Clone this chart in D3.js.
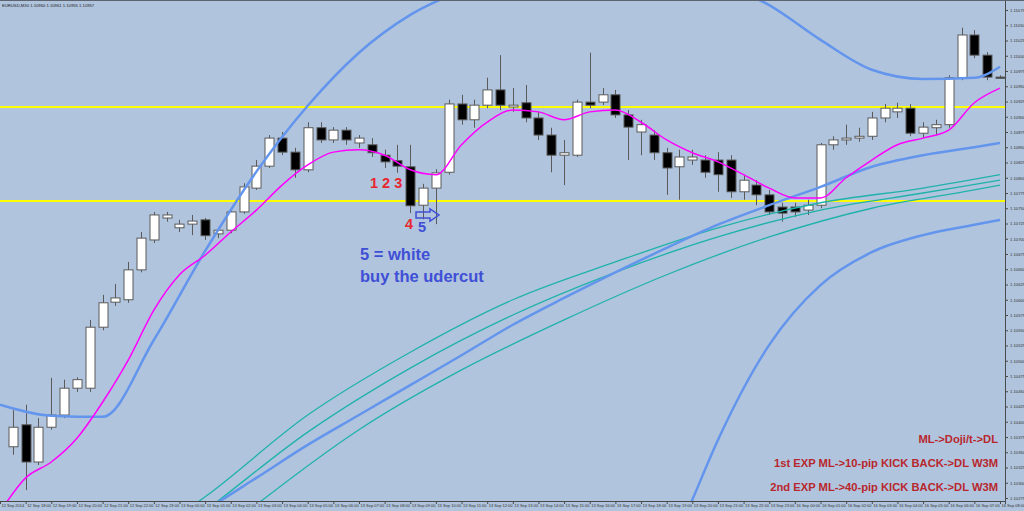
<html>
<head>
<meta charset="utf-8">
<script src="https://d3js.org/d3.v7.min.js"></script>
<style>
body {margin:0; background:#b0c4de; overflow:hidden;}
text {font-family: Arial, "Liberation Sans", sans-serif;}
</style>
</head>
<body>
<svg width="1024" height="511"></svg>
<script>
// EURUSD M30 candles, bar 1 = 12 Sep 17:30
var opens  = [1.10359,1.10395,1.10334,1.10391,1.10411,1.10455,1.10455,1.10555,1.10596,1.10600,
              1.10649,1.10698,1.10734,1.10718,1.10724,1.10731,1.10708,1.10714,1.10744,1.10783,
              1.10819,1.10865,1.10842,1.10813,1.10882,1.10862,1.10878,1.10857,1.10854,1.10837,
              1.10828,1.10818,1.10755,1.10783,1.10809,1.10921,1.10895,1.10919,1.10944,1.10916,
              1.10923,1.10898,1.10870,1.10837,1.10837,1.10924,1.10924,1.10936,1.10903,1.10875,
              1.10870,1.10841,1.10818,1.10829,1.10829,1.10829,1.10829,1.10777,1.10788,1.10772,
              1.10752,1.10752,1.10747,1.10755,1.10854,1.10862,1.10865,1.10868,1.10898,1.10908,
              1.10914,1.10873,1.10882,1.10887,1.10964,1.11034,1.11001,1.10965]
var highs  = [1.10419,1.10428,1.10406,1.10472,1.10469,1.10473,1.10567,1.10608,1.10626,1.10662,
              1.10711,1.10744,1.10744,1.10731,1.10739,1.10734,1.10718,1.10750,1.10791,1.10829,
              1.10870,1.10875,1.10849,1.10891,1.10891,1.10883,1.10883,1.10870,1.10865,1.10846,
              1.10854,1.10854,1.10790,1.10814,1.10928,1.10936,1.10928,1.10964,1.11001,1.10947,
              1.10952,1.10908,1.10882,1.10862,1.10928,1.11005,1.10947,1.10944,1.10911,1.10895,
              1.10878,1.10849,1.10846,1.10846,1.10837,1.10842,1.10837,1.10805,1.10796,1.10780,
              1.10759,1.10759,1.10764,1.10857,1.10868,1.10887,1.10882,1.10908,1.10921,1.10923,
              1.10921,1.10891,1.10895,1.10968,1.11046,1.11042,1.11006,1.10968]
var lows   = [1.10346,1.10288,1.10329,1.10387,1.10406,1.10449,1.10449,1.10550,1.10590,1.10595,
              1.10645,1.10693,1.10728,1.10711,1.10706,1.10698,1.10701,1.10709,1.10741,1.10780,
              1.10816,1.10837,1.10800,1.10809,1.10857,1.10857,1.10854,1.10849,1.10834,1.10816,
              1.10808,1.10742,1.10732,1.10724,1.10805,1.10887,1.10882,1.10914,1.10911,1.10908,
              1.10891,1.10862,1.10809,1.10788,1.10834,1.10914,1.10919,1.10898,1.10829,1.10837,
              1.10829,1.10772,1.10764,1.10821,1.10800,1.10777,1.10767,1.10764,1.10755,1.10739,
              1.10728,1.10736,1.10739,1.10750,1.10846,1.10854,1.10859,1.10862,1.10891,1.10898,
              1.10868,1.10865,1.10870,1.10882,1.10960,1.10996,1.10960,1.10962]
var closes = [1.10391,1.10334,1.10391,1.10411,1.10455,1.10469,1.10555,1.10595,1.10603,1.10649,
              1.10701,1.10739,1.10739,1.10724,1.10729,1.10705,1.10714,1.10744,1.10785,1.10819,
              1.10865,1.10842,1.10813,1.10882,1.10862,1.10878,1.10862,1.10865,1.10841,1.10826,
              1.10819,1.10754,1.10783,1.10808,1.10921,1.10895,1.10919,1.10944,1.10919,1.10919,
              1.10898,1.10870,1.10837,1.10841,1.10924,1.10919,1.10936,1.10903,1.10883,1.10887,
              1.10841,1.10816,1.10834,1.10834,1.10809,1.10805,1.10777,1.10796,1.10772,1.10744,
              1.10742,1.10744,1.10755,1.10854,1.10862,1.10865,1.10868,1.10898,1.10914,1.10914,
              1.10873,1.10883,1.10887,1.10964,1.11034,1.11001,1.10965,1.10963]

// indicators, sampled at bar indexes
var bbUpBars = [0,4,8,12,16,20,24,28,32,36,40,44,48,52,56,60,64,68,72,76,78]
var bbUpVals = [1.10428,1.10410,1.10408,1.10534,1.10680,1.10810,1.10918,1.11005,1.11067,1.11108,
                1.11149,1.11173,1.11177,1.11157,1.11121,1.11083,1.11026,1.10977,1.10962,1.10964,1.10982]
var bbMidBars = [14,16,20,24,28,32,36,40,44,48,52,56,60,64,68,72,76,78]
var bbMidVals = [1.10231,1.10255,1.10308,1.10362,1.10411,1.10460,1.10509,1.10559,1.10603,1.10645,
                 1.10685,1.10723,1.10755,1.10785,1.10818,1.10837,1.10850,1.10857]
var bbLowBars = [50,54,56,60,64,68,72,76,78]
var bbLowVals = [1.10075,1.10272,1.10370,1.10526,1.10624,1.10678,1.10706,1.10723,1.10731]
var ema1Bars = [14,16,24,32,40,48,56,64,72,78]
var ema1Vals = [1.10247,1.10277,1.10411,1.10514,1.10600,1.10662,1.10718,1.10759,1.10783,1.10805]
var ema2Bars = [14,16,24,32,40,48,56,64,72,78]
var ema2Vals = [1.10223,1.10254,1.10383,1.10488,1.10575,1.10645,1.10703,1.10747,1.10775,1.10796]
var ema3Bars = [18,20,28,36,44,52,60,68,76,78]
var ema3Vals = [1.10231,1.10264,1.10387,1.10485,1.10567,1.10641,1.10703,1.10750,1.10780,1.10788]
var fastBars = d3.range(0, 79, 2)
var fastVals = [1.10252,1.10308,1.10334,1.10373,1.10432,1.10501,1.10583,1.10641,1.10673,1.10711,
                1.10747,1.10788,1.10821,1.10842,1.10846,1.10837,1.10813,1.10805,1.10854,1.10891,
                1.10911,1.10908,1.10895,1.10908,1.10911,1.10891,1.10862,1.10841,1.10826,1.10805,
                1.10783,1.10767,1.10767,1.10800,1.10829,1.10854,1.10865,1.10878,1.10923,1.10947]
var levels = [1.10916, 1.10762]

var priceTicks = ["1.10275","1.10300","1.10325","1.10350","1.10375","1.10400","1.10425","1.10450",
                  "1.10475","1.10500","1.10525","1.10550","1.10575","1.10600","1.10625","1.10650",
                  "1.10675","1.10700","1.10725","1.10750","1.10775","1.10800","1.10825","1.10850",
                  "1.10875","1.10900","1.10925","1.10950","1.10975","1.11000","1.11025","1.11050","1.11075"]
var timeLabels = ["12 Sep 2014","12 Sep 18:00","12 Sep 19:00","12 Sep 20:00","12 Sep 21:00","12 Sep 22:00",
                  "12 Sep 23:00","13 Sep 00:00","13 Sep 01:00","13 Sep 02:00","13 Sep 03:00","13 Sep 04:00",
                  "13 Sep 05:00","13 Sep 06:00","13 Sep 07:00","13 Sep 08:00","13 Sep 09:00","13 Sep 10:00",
                  "13 Sep 11:00","13 Sep 12:00","13 Sep 13:00","13 Sep 14:00","13 Sep 15:00","13 Sep 16:00",
                  "13 Sep 17:00","13 Sep 18:00","13 Sep 19:00","13 Sep 20:00","13 Sep 21:00","13 Sep 22:00",
                  "13 Sep 23:00","16 Sep 00:00","16 Sep 01:00","16 Sep 02:00","16 Sep 03:00","16 Sep 04:00",
                  "16 Sep 05:00","16 Sep 06:00","16 Sep 07:00","16 Sep 08:00"]
var notes = ["ML->Doji/t->DL", "1st EXP ML->10-pip KICK BACK->DL W3M", "2nd EXP ML->40-pip KICK BACK->DL W3M"]

var W = 1005, H = 501
var svg = d3.select("svg")
var x = d3.scaleLinear().domain([0, 78]).range([0, 1000])
var y = d3.scaleLinear().domain([1.10275, 1.11075]).range([498, 10])

svg.append("rect").attr("width", 1024).attr("height", 511).attr("fill", "#b0c4de")
svg.append("defs").append("clipPath").attr("id", "plot")
  .append("rect").attr("width", W).attr("height", H)
var plot = svg.append("g").attr("clip-path", "url(#plot)")

// horizontal levels
plot.selectAll(".lvl").data(levels).enter().append("line")
  .attr("x1", 0).attr("x2", W)
  .attr("y1", d => y(d)).attr("y2", d => y(d))
  .attr("stroke", "#ffff00").attr("stroke-width", 2)

// candles
var bars = opens.map((o, i) => ({i: i + 1, o: o, h: highs[i], l: lows[i], c: closes[i]}))
var cg = plot.append("g")
cg.selectAll(".wick").data(bars).enter().append("line")
  .attr("x1", d => Math.round(x(d.i)) + 0.5).attr("x2", d => Math.round(x(d.i)) + 0.5)
  .attr("y1", d => y(d.h)).attr("y2", d => y(d.l))
  .attr("stroke", "#5a5a5a").attr("stroke-width", 1)
cg.selectAll(".body").data(bars).enter().append("rect")
  .attr("x", d => Math.round(x(d.i)) - 4)
  .attr("width", 9)
  .attr("y", d => y(Math.max(d.o, d.c)))
  .attr("height", d => Math.max(1, Math.abs(y(d.o) - y(d.c))))
  .attr("fill", d => d.c >= d.o ? "#ffffff" : "#000000")
  .attr("stroke", "#5a5a5a").attr("stroke-width", 1)

// indicator lines
var line = d3.line().x(d => x(d[0])).y(d => y(d[1])).curve(d3.curveMonotoneX)
var series = [
  [bbUpBars, bbUpVals, "#6495ed", 2.5],
  [bbLowBars, bbLowVals, "#6495ed", 2.5],
  [ema3Bars, ema3Vals, "#20b2aa", 1.3],
  [ema2Bars, ema2Vals, "#20b2aa", 1.3],
  [ema1Bars, ema1Vals, "#20b2aa", 1.3],
  [bbMidBars, bbMidVals, "#6495ed", 2.5],
  [fastBars, fastVals, "#ff00ff", 1.5]
]
series.forEach(function(s) {
  plot.append("path").datum(d3.zip(s[0], s[1]))
    .attr("d", line).attr("fill", "none")
    .attr("stroke", s[2]).attr("stroke-width", s[3])
})

// axes
var ay = svg.append("g").attr("transform", "translate(" + W + ",0)")
  .call(d3.axisRight(y).tickValues(priceTicks.map(Number)).tickFormat((d, i) => priceTicks[i]).tickSize(3).tickSizeOuter(0))
var ax = svg.append("g").attr("transform", "translate(0," + H + ")")
  .call(d3.axisBottom(x).tickValues(d3.range(0, 79, 2)).tickFormat((d, i) => timeLabels[i]).tickSize(3).tickSizeOuter(0))
ay.select(".domain").remove()
ax.select(".domain").remove()
ay.selectAll("line").attr("stroke", "#4a4a4a")
ax.selectAll("line").attr("stroke", "#4a4a4a")
ay.selectAll("text").attr("x", 5).attr("font-size", 4.2).attr("fill", "#333")
ax.selectAll("text").attr("text-anchor", "start").attr("x", 1).attr("y", 3).attr("font-size", 4).attr("fill", "#333")
svg.append("line").attr("x1", W + 0.5).attr("x2", W + 0.5).attr("y1", 0).attr("y2", H + 3).attr("stroke", "#4a4a4a")
svg.append("line").attr("x1", 0).attr("x2", W + 0.5).attr("y1", H + 0.5).attr("y2", H + 0.5).attr("stroke", "#4a4a4a")
svg.append("line").attr("x1", 0).attr("x2", 1024).attr("y1", 0.5).attr("y2", 0.5).attr("stroke", "#5c6470")

// title
svg.append("text").attr("x", 2).attr("y", 7).attr("font-size", 4.2).attr("fill", "#222")
  .text("EURUSD,M30  1.10960 1.10961 1.10955 1.10957")

// annotations
svg.append("text").attr("x", 370).attr("y", 188).attr("font-size", 14.5).attr("font-weight", "bold")
  .attr("fill", "#e8262e").text("1 2 3")
svg.append("text").attr("x", 405).attr("y", 229).attr("font-size", 14.5).attr("font-weight", "bold")
  .attr("fill", "#e8262e").text("4")
svg.append("text").attr("x", 418).attr("y", 232).attr("font-size", 14.5).attr("font-weight", "bold")
  .attr("fill", "#3f4fd6").text("5")
svg.append("path").attr("d", "M416,212 L430,212 L430,209 L439,215 L430,221 L430,218 L416,218 Z")
  .attr("fill", "none").attr("stroke", "#3f4fd6").attr("stroke-width", 1.5)
svg.append("text").attr("x", 360).attr("y", 260).attr("font-size", 16.5).attr("font-weight", "bold")
  .attr("fill", "#3f4fd6").text("5 = white")
svg.append("text").attr("x", 360).attr("y", 282).attr("font-size", 16.5).attr("font-weight", "bold")
  .attr("fill", "#3f4fd6").text("buy the udercut")

svg.selectAll(".note").data(notes).enter().append("text")
  .attr("x", 998).attr("y", (d, i) => 443 + i * 24)
  .attr("text-anchor", "end").attr("font-size", 11.2).attr("font-weight", "bold")
  .attr("fill", "#b8272d").text(d => d)
</script>
</body>
</html>
